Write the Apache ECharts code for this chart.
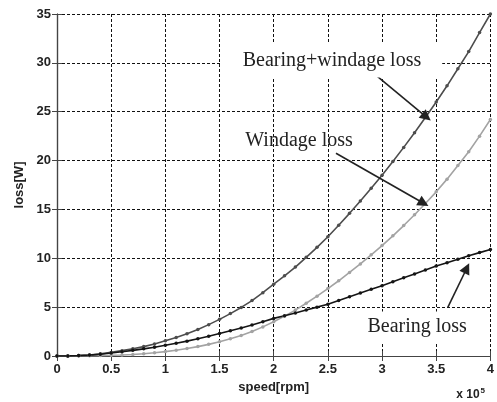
<!DOCTYPE html>
<html>
<head>
<meta charset="utf-8">
<script src="https://cdn.jsdelivr.net/npm/echarts@6/dist/echarts.min.js"></script>
<style>
  html, body { margin: 0; padding: 0; background: #fff; }
  #chart { width: 497px; height: 402px; }
</style>
</head>
<body>
<div id="chart"></div>
<script>
// speed in units of 1e5 rpm
const speed = [0, 0.1, 0.2, 0.3, 0.4, 0.5, 0.6, 0.7, 0.8, 0.9,
  1.0, 1.1, 1.2, 1.3, 1.4, 1.5, 1.6, 1.7, 1.8, 1.9,
  2.0, 2.1, 2.2, 2.3, 2.4, 2.5, 2.6, 2.7, 2.8, 2.9,
  3.0, 3.1, 3.2, 3.3, 3.4, 3.5, 3.6, 3.7, 3.8, 3.9, 4.0];

// losses in W
const bearingWindageLoss = [0, 0.01, 0.05, 0.11, 0.22, 0.37, 0.55, 0.74, 0.96, 1.23,
  1.55, 1.89, 2.28, 2.72, 3.21, 3.75, 4.34, 4.97, 5.67, 6.48,
  7.35, 8.2, 9.1, 10.1, 11.12, 12.2, 13.38, 14.6, 15.86, 17.17,
  18.5, 19.9, 21.35, 22.85, 24.4, 26.0, 27.65, 29.4, 31.15, 33.1, 35.0];

const windageLoss = [0, 0.0, 0.01, 0.02, 0.04, 0.07, 0.11, 0.16, 0.23, 0.33,
  0.45, 0.59, 0.76, 0.96, 1.19, 1.45, 1.76, 2.1, 2.5, 2.98,
  3.5, 4.08, 4.7, 5.4, 6.12, 6.9, 7.7, 8.55, 9.42, 10.35,
  11.3, 12.3, 13.35, 14.45, 15.6, 16.8, 18.1, 19.5, 20.9, 22.5, 24.2];

const bearingLoss = [0, 0.01, 0.04, 0.09, 0.18, 0.3, 0.44, 0.58, 0.73, 0.9,
  1.1, 1.3, 1.52, 1.76, 2.02, 2.3, 2.58, 2.87, 3.17, 3.5,
  3.85, 4.12, 4.4, 4.7, 5.0, 5.3, 5.68, 6.06, 6.44, 6.82,
  7.2, 7.6, 8.0, 8.4, 8.8, 9.2, 9.55, 9.9, 10.25, 10.58, 10.9];

const xTicks = { min: 0, max: 4, interval: 0.5 };
const yTicks = { min: 0, max: 35, interval: 5 };

// callout texts (centre points) and arrow end points, in data coordinates
const notes = [
  { text: 'Bearing+windage loss', at: [2.538, 30.25], boxed: true, padding: [7, 21] },
  { text: 'Windage loss', at: [2.234, 22.0], boxed: false, padding: 0 },
  { text: 'Bearing loss', at: [3.324, 2.97], boxed: true, padding: [4, 16, 7, 16] }
];
const arrows = [
  [[2.94, 28.76], [3.41, 24.45]],
  [[2.575, 20.75], [3.384, 15.63]],
  [[3.607, 4.98], [3.782, 8.98]]
];

const pairs = (ys) => speed.map((x, i) => [x, ys[i]]);

const tickFont = { fontFamily: 'Liberation Sans', fontWeight: 'bold', fontSize: 13, color: '#222' };

function curve(name, ys, color) {
  return {
    name, type: 'line', data: pairs(ys),
    symbol: 'circle', symbolSize: 3.5, showSymbol: true,
    lineStyle: { color, width: 1.6 },
    itemStyle: { color },
    silent: true, animation: false
  };
}

const axisBox = { show: true, lineStyle: { color: '#444', width: 1.2 } };
const innerTicks = { show: true, inside: true, length: 5, lineStyle: { color: '#444', width: 1 } };
const dashedGrid = { show: true, lineStyle: { color: '#111', width: 1, type: [3, 2] } };

const chart = echarts.init(document.getElementById('chart'), null, { renderer: 'canvas' });
const arrowSeries = curve('Bearing loss', bearingLoss, '#151515');
arrowSeries.markLine = {
  silent: true, symbol: ['none', 'triangle'], symbolSize: 11,
  label: { show: false },
  lineStyle: { color: '#222', width: 1.6, type: 'solid' },
  itemStyle: { color: '#222' },
  data: arrows.map(a => [{ coord: a[0] }, { coord: a[1] }])
};

chart.setOption({
  backgroundColor: '#fff',
  animation: false,
  grid: { left: 57, right: 5, top: 14, bottom: 46 },
  xAxis: [{
    type: 'value', min: xTicks.min, max: xTicks.max, interval: xTicks.interval,
    position: 'bottom',
    axisLine: axisBox, axisTick: innerTicks,
    axisLabel: Object.assign({ margin: 7 }, tickFont),
    splitLine: dashedGrid,
    name: 'speed[rpm]', nameLocation: 'middle', nameGap: 22,
    nameTextStyle: tickFont
  }, {
    type: 'value', min: xTicks.min, max: xTicks.max, interval: xTicks.interval,
    position: 'top',
    axisLine: axisBox, axisTick: innerTicks,
    axisLabel: { show: false }, splitLine: { show: false }
  }],
  yAxis: [{
    type: 'value', min: yTicks.min, max: yTicks.max, interval: yTicks.interval,
    position: 'left',
    axisLine: axisBox, axisTick: innerTicks,
    axisLabel: Object.assign({ margin: 6 }, tickFont),
    splitLine: dashedGrid,
    name: 'loss[W]', nameLocation: 'middle', nameGap: 30,
    nameTextStyle: tickFont
  }, {
    type: 'value', min: yTicks.min, max: yTicks.max, interval: yTicks.interval,
    position: 'right',
    axisLine: axisBox, axisTick: innerTicks,
    axisLabel: { show: false }, splitLine: { show: false }
  }],
  series: [
    curve('Windage loss', windageLoss, '#a3a3a3'),
    curve('Bearing+windage loss', bearingWindageLoss, '#4d4d4d'),
    arrowSeries
  ]
});

// callout texts placed through the grid's own coordinate conversion
const noteGraphics = notes.map(n => {
  const p = chart.convertToPixel({ xAxisIndex: 0, yAxisIndex: 0 }, n.at);
  return {
    type: 'text', x: p[0], y: p[1], z: 50,
    style: {
      text: n.text, fontFamily: 'Liberation Serif', fontSize: 20, fill: '#222',
      align: 'center', verticalAlign: 'middle',
      backgroundColor: n.boxed ? '#fff' : null, padding: n.padding
    }
  };
});

chart.setOption({
  graphic: noteGraphics.concat([{
    type: 'text', right: 12, bottom: 1,
    style: {
      text: '{a|x 10}{b|5}',
      rich: {
        a: { fontFamily: 'Liberation Sans', fontWeight: 'bold', fontSize: 12, fill: '#222' },
        b: { fontFamily: 'Liberation Sans', fontWeight: 'bold', fontSize: 8, fill: '#222', verticalAlign: 'top', padding: [0, 0, 8, 1] }
      }
    }
  }])
});
</script>
</body>
</html>
